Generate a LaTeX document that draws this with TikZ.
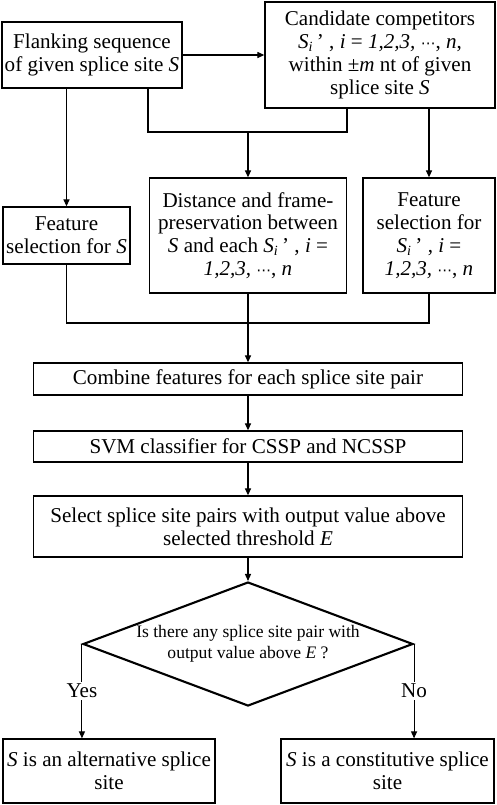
\documentclass[tikz,border=0pt]{standalone}
\usepackage{fontspec}
\setmainfont{Liberation Serif}
\newfontfamily\dotsFont[Scale=0.7]{DejaVu Sans}
\usetikzlibrary{shapes.geometric,arrows.meta}
\tikzset{
	stepBox/.style={rectangle, draw=black, line width=0.8pt, align=center, inner sep=1pt, font=\fontsize{12}{13}\selectfont},
	flowLine/.style={line width=0.6pt},
	flowArrow/.style={flowLine, -{Triangle[length=4pt,width=3.5pt]}}
}
\newcommand{\siPrime}{\textit{S}\textsubscript{\textit{i}}\,’}
\newcommand{\midDots}{{\dotsFont ⋯}}
\begin{document}
\begin{tikzpicture}
\useasboundingbox (0,0) rectangle (9.92,-16.10);
\node[stepBox, minimum width=3.6cm, minimum height=1.32cm](flankBox) at (1.84,-1.10){Flanking sequence\\of given splice site \textit{S}};
	\node[stepBox, minimum width=4.6cm, minimum height=2.12cm](candBox) at (7.6,-1.10){Candidate competitors\\\siPrime\ , \textit{i} = \textit{1,2,3,} \midDots, \textit{n},\\within ±\textit{m} nt of given\\splice site \textit{S}};

	\node[stepBox, minimum width=2.54cm, minimum height=1.14cm](featSBox) at (1.33,-4.71){Feature\\selection for \textit{S}};
	\node[stepBox, minimum width=3.94cm, minimum height=2.30cm](distBox) at (4.96,-4.71){Distance and frame-\\preservation between\\\textit{S} and each \siPrime\ , \textit{i} =\\\textit{1,2,3,} \midDots, \textit{n}};
	\node[stepBox, minimum width=2.64cm, minimum height=2.30cm](featSiBox) at (8.58,-4.71){Feature\\selection for\\\siPrime\ , \textit{i} =\\\textit{1,2,3,} \midDots, \textit{n}};

	\node[stepBox, minimum width=8.58cm, minimum height=0.64cm](combineBox) at (4.96,-7.58){Combine features for each splice site pair};
	\node[stepBox, minimum width=8.58cm, minimum height=0.62cm](svmBox) at (4.96,-8.93){SVM classifier for CSSP and NCSSP};
	\node[stepBox, minimum width=8.58cm, minimum height=1.22cm](selectBox) at (4.96,-10.53){Select splice site pairs with output value above\\selected threshold \textit{E}};

	\node[diamond, draw=black, line width=1.2pt, aspect=2.66, minimum width=6.6cm, minimum height=2.48cm, inner sep=0pt, align=center, font=\fontsize{10}{12}\selectfont](decisionNode) at (4.96,-12.88){Is there any splice site pair with\\output value above \textit{E} ?};

	\node[stepBox, minimum width=4.24cm, minimum height=1.28cm](altBox) at (2.18,-15.42){\textit{S} is an alternative splice\\site};
	\node[stepBox, minimum width=4.26cm, minimum height=1.28cm](constBox) at (7.75,-15.42){\textit{S} is a constitutive splice\\site};

	\coordinate(topJoin) at (4.96,-2.64);
	\coordinate(bottomJoin) at (4.96,-6.46);

	\draw[flowArrow] (flankBox.east) -- (candBox.west);
	\draw[flowLine] ([xshift=1.12cm]flankBox.south) |- (topJoin) -| ([xshift=-0.66cm]candBox.south);
	\draw[flowArrow] (topJoin) -- (distBox.north);
	\draw[flowArrow] (flankBox.south -| featSBox.north) -- (featSBox.north);
	\draw[flowArrow] (candBox.south -| featSiBox.north) -- (featSiBox.north);

	\draw[flowLine] (featSBox.south) |- (bottomJoin) -| (featSiBox.south);
	\draw[flowArrow] (distBox.south) -- (combineBox.north);
	\draw[flowArrow] (combineBox.south) -- (svmBox.north);
	\draw[flowArrow] (svmBox.south) -- (selectBox.north);
	\draw[flowArrow] (selectBox.south) -- (decisionNode.north);

	\draw[flowArrow] (decisionNode.west) -- node[fill=white, inner sep=1pt, font=\fontsize{12}{13}\selectfont]{Yes} (decisionNode.west |- altBox.north);
	\draw[flowArrow] (decisionNode.east) -- node[fill=white, inner sep=1pt, font=\fontsize{12}{13}\selectfont]{No} (decisionNode.east |- constBox.north);
\end{tikzpicture}
\end{document}
